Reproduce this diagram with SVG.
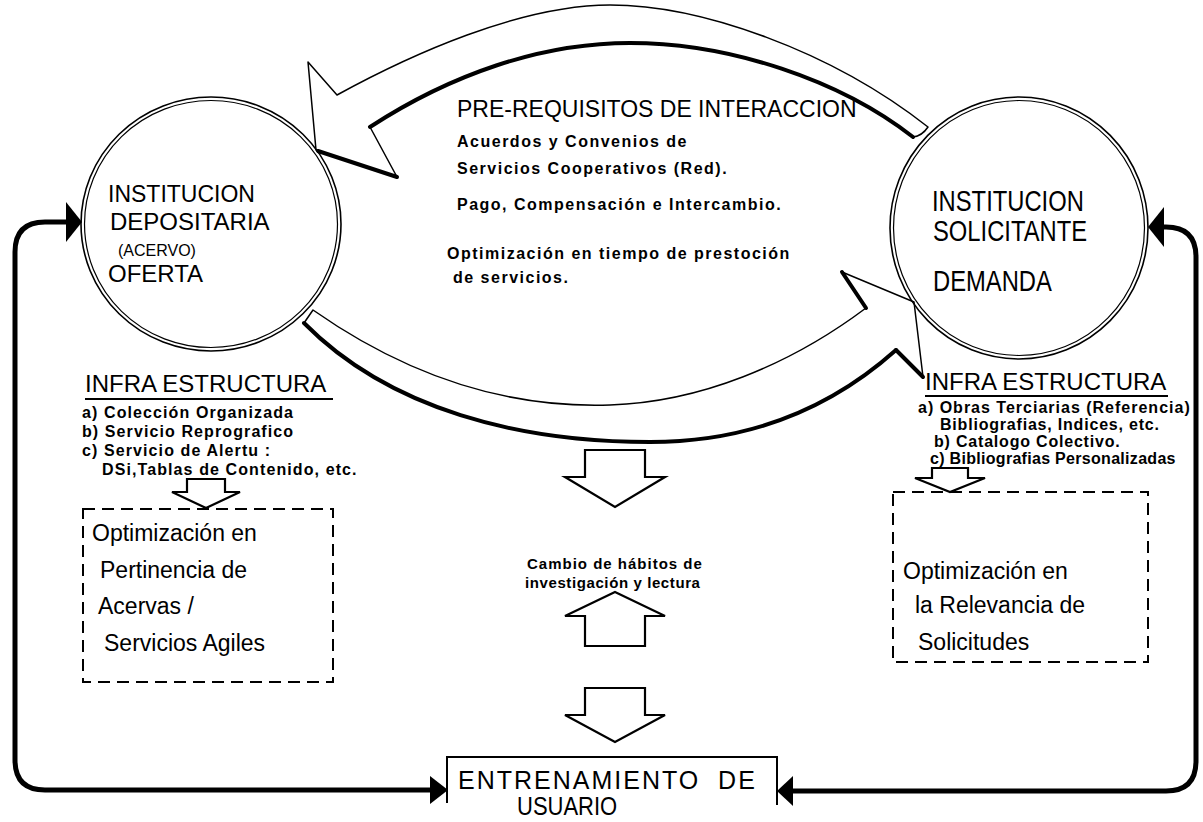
<svg xmlns="http://www.w3.org/2000/svg" width="1203" height="822" viewBox="0 0 1203 822">
<style>
.big{font-family:"Liberation Sans",Arial,sans-serif;font-size:23px;fill:#000}
.sm{font-family:"Liberation Sans",Arial,sans-serif;font-size:16px;font-weight:bold;letter-spacing:1.5px;fill:#000}
.lst{font-family:"Liberation Sans",Arial,sans-serif;font-size:16px;font-weight:bold;letter-spacing:1.1px;fill:#000}
.box{font-family:"Liberation Sans",Arial,sans-serif;font-size:23px;fill:#000}
.ring{fill:none;stroke:#000;stroke-width:1.6}
.thin{fill:#fff;stroke:#000;stroke-width:1.5;stroke-linejoin:round}
.thick{fill:none;stroke:#000;stroke-width:4;stroke-linecap:round;stroke-linejoin:round}
.blk{fill:#fff;stroke:#000;stroke-width:2.2;stroke-linejoin:miter}
.dash{fill:none;stroke:#000;stroke-width:2;stroke-dasharray:12 7}
.loop{fill:none;stroke:#000;stroke-width:5}
</style>
<rect width="1203" height="822" fill="#fff"/>

<g id="connectors">
  <!-- top curved arrow: right circle -> left circle -->
  <path class="thin" d="M928,127 C830,50 700,5 610,5 C520,5 410,55 337,95 L308,62 L316,150 L397,177 L370,127 C450,75 540,43 630,43 C730,43 840,80 913,137 Q922,136 928,127 Z"/>
  <path class="thick" d="M370,127 C450,75 540,43 630,43 C730,43 840,80 913,137"/>
  <path class="thick" d="M318,151 L397,177"/>
  <!-- bottom curved arrow: left circle -> right circle -->
  <path class="thin" d="M313,310 C420,385 520,408 610,405 C700,402 790,365 866,308 L842,272 L914,302 L923,377 L896,350 C840,400 760,442 650,442 C520,442 390,410 304,323 Z"/>
  <path class="thick" d="M896,350 C840,400 760,442 650,442 C520,442 390,410 304,323"/>
  <path class="thick" d="M842,272 L866,308"/>
  <path class="thick" d="M923,377 L896,350"/>
  <!-- center block arrows -->
  <path class="blk" d="M585,450 H645 V477 H665 L615,507 L565,477 H585 Z"/>
  <path class="blk" d="M615,592 L665,616 H645 V646 H585 V616 H565 Z"/>
  <path class="blk" d="M585,688 H645 V715 H665 L615,742 L565,715 H585 Z"/>
  <!-- small arrows to dashed boxes -->
  <path class="blk" d="M187,479 H225 V492 H240 L206,508 L172,492 H187 Z"/>
  <path class="blk" d="M932,468 H968 V478 H985 L950,492 L915,478 H932 Z"/>
  <!-- loop lines -->
  <path class="loop" d="M432,790 H45 Q15,790 15,760 V252 Q15,222 45,222 H68"/>
  <polygon points="66,202 82,222 66,242" fill="#000"/>
  <polygon points="430,776 448,790 430,804" fill="#000"/>
  <path class="loop" d="M792,791 H1166 Q1196,791 1196,761 V257 Q1196,227 1166,227 H1162"/>
  <polygon points="1164,207 1148,227 1164,247" fill="#000"/>
  <polygon points="793,776 777,791 793,806" fill="#000"/>
</g>

<g id="oferta">
  <ellipse class="ring" cx="211" cy="224" rx="130" ry="127"/>
  <ellipse class="ring" cx="211" cy="224" rx="126.5" ry="123.5" style="stroke-width:1.2"/>
  <text class="big" x="108" y="202">INSTITUCION</text>
  <text class="big" x="110" y="230" style="font-size:24px">DEPOSITARIA</text>
  <text class="big" x="118" y="256" style="font-size:16px">(ACERVO)</text>
  <text class="big" x="108" y="282" style="font-size:24px">OFERTA</text>
</g>

<g id="demanda">
  <ellipse class="ring" cx="1019" cy="228" rx="129" ry="131"/>
  <ellipse class="ring" cx="1019" cy="228" rx="125.5" ry="127.5" style="stroke-width:1.2"/>
  <text class="big" transform="translate(932,211) scale(0.82,1)" style="font-size:29px">INSTITUCION</text>
  <text class="big" transform="translate(933,241) scale(0.82,1)" style="font-size:29px">SOLICITANTE</text>
  <text class="big" transform="translate(933,291) scale(0.82,1)" style="font-size:29px">DEMANDA</text>
</g>

<g id="prerequisitos">
  <text class="big" x="457" y="117">PRE-REQUISITOS DE INTERACCION</text>
  <text class="sm" x="457" y="147">Acuerdos y Convenios de</text>
  <text class="sm" x="457" y="174">Servicios Cooperativos (Red).</text>
  <text class="sm" x="457" y="210">Pago, Compensación e Intercambio.</text>
  <text class="sm" x="447" y="259">Optimización en tiempo de prestoción</text>
  <text class="sm" x="453" y="283">de servicios.</text>
</g>

<g id="infra-oferta">
  <text class="big" x="85" y="392" style="font-size:24px">INFRA ESTRUCTURA</text>
  <line x1="85" y1="399" x2="333" y2="399" stroke="#000" stroke-width="2"/>
  <text class="lst" x="82" y="418">a) Colección Organizada</text>
  <text class="lst" x="82" y="437">b) Servicio Reprografico</text>
  <text class="lst" x="82" y="456">c) Servicio de Alertu :</text>
  <text class="lst" x="102" y="475">DSi,Tablas de Contenido, etc.</text>
</g>

<g id="opt-oferta">
  <rect class="dash" x="83" y="509" width="250" height="173"/>
  <text class="box" x="92" y="541">Optimización en</text>
  <text class="box" x="100" y="578">Pertinencia de</text>
  <text class="box" x="98" y="614">Acervas /</text>
  <text class="box" x="104" y="651">Servicios Agiles</text>
</g>

<g id="infra-demanda">
  <text class="big" x="925" y="390" style="font-size:24px">INFRA ESTRUCTURA</text>
  <line x1="925" y1="396" x2="1168" y2="396" stroke="#000" stroke-width="2"/>
  <text class="lst" x="918" y="413" style="letter-spacing:1px">a) Obras Terciarias (Referencia)</text>
  <text class="lst" x="940" y="430" style="letter-spacing:0.8px">Bibliografias, Indices, etc.</text>
  <text class="lst" x="934" y="447" style="letter-spacing:0.8px">b) Catalogo Colectivo.</text>
  <text class="lst" x="930" y="464" style="letter-spacing:0.3px">c) Bibliografias Personalizadas</text>
</g>

<g id="opt-demanda">
  <rect class="dash" x="893" y="492" width="255" height="170"/>
  <text class="box" x="903" y="579">Optimización en</text>
  <text class="box" x="915" y="613">la Relevancia de</text>
  <text class="box" x="918" y="650">Solicitudes</text>
</g>

<g id="cambio">
  <text class="lst" x="527" y="569" style="font-size:15px;letter-spacing:1px">Cambio de hábitos de</text>
  <text class="lst" x="525" y="588" style="font-size:15px;letter-spacing:0.6px">investigación y lectura</text>
</g>

<g id="entrenamiento">
  <path d="M447,803 V757 H777 V805" fill="none" stroke="#000" stroke-width="2"/>
  <text class="big" x="458" y="789" style="font-size:25px;letter-spacing:2px">ENTRENAMIENTO&#160;&#160;DE</text>
  <text class="big" transform="translate(517,815) scale(0.88,1)" style="font-size:25px">USUARIO</text>
</g>
</svg>
